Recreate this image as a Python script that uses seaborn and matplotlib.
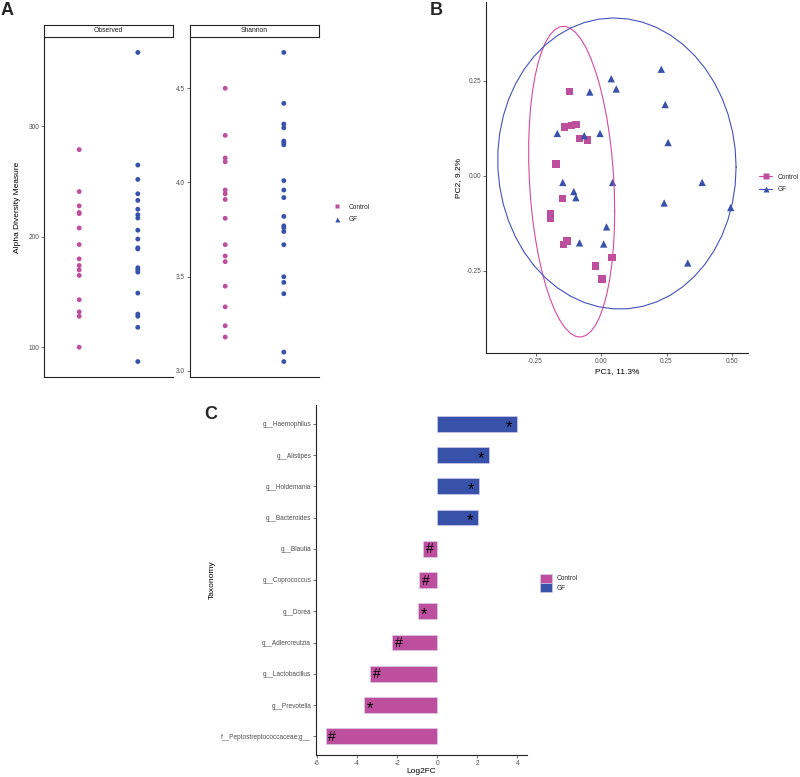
import numpy as np
import pandas as pd
import matplotlib
matplotlib.use('Agg')
import matplotlib.pyplot as plt
import seaborn as sns
from matplotlib.lines import Line2D
from matplotlib.patches import Patch

# ---------------- data ----------------
groups = ['Control', 'GF']
palette = {'Control': '#BE4F9E', 'GF': '#3752A8'}

observed_control = [279, 241, 228, 222, 221, 208, 193, 180, 174, 170, 165, 143, 132, 128, 100]
observed_gf = [367, 265, 252, 239, 233, 225, 220, 217, 206, 198, 190, 189, 172, 170, 168,
               149, 130, 128, 118, 87]
shannon_control = [4.50, 4.25, 4.13, 4.11, 3.96, 3.94, 3.91, 3.81, 3.67, 3.61, 3.58, 3.45,
                   3.34, 3.24, 3.18]
shannon_gf = [4.69, 4.42, 4.31, 4.29, 4.22, 4.21, 4.20, 4.01, 3.96, 3.92, 3.82, 3.77, 3.76,
              3.74, 3.67, 3.50, 3.47, 3.41, 3.10, 3.05]

pc1_control = [-0.120, -0.139, -0.112, -0.096, -0.083, -0.051, -0.172, -0.146, -0.194, -0.192,
               -0.143, -0.130, 0.042, -0.021, 0.004]
pc2_control = [0.222, 0.128, 0.132, 0.135, 0.098, 0.094, 0.031, -0.061, -0.100, -0.112,
               -0.181, -0.172, -0.215, -0.238, -0.272]
pc1_gf = [0.230, 0.039, -0.043, 0.058, 0.245, -0.167, -0.064, -0.004, 0.256, -0.146, 0.044,
          0.386, -0.104, -0.096, 0.241, 0.495, 0.021, -0.082, 0.010, 0.331]
pc2_gf = [0.280, 0.255, 0.220, 0.228, 0.187, 0.111, 0.105, 0.111, 0.087, -0.018, -0.018,
          -0.018, -0.042, -0.058, -0.072, -0.084, -0.135, -0.177, -0.180, -0.230]
# 95% F quantiles qf(0.95, 2, n-1) for n = 15 and n = 20
f95 = {'Control': 3.7389, 'GF': 3.5219}

taxa = ['g__Haemophilus', 'g__Alistipes', 'g__Holdemania', 'g__Bacteroides', 'g__Blautia',
        'g__Coprococcus', 'g__Dorea', 'g__Adlercreutzia', 'g__Lactobacillus', 'g__Prevotella',
        'f__Peptostreptococcaceae;g__']
log2fc = [4.00, 2.57, 2.08, 2.03, -0.69, -0.91, -0.94, -2.25, -3.36, -3.65, -5.57]
taxa_group = ['GF', 'GF', 'GF', 'GF', 'Control', 'Control', 'Control', 'Control', 'Control',
              'Control', 'Control']
signif = ['*', '*', '*', '*', '#', '#', '*', '#', '#', '*', '#']

# ---------------- style ----------------
sns.set_theme(style='white')
plt.rcParams['font.family'] = ['Liberation Sans', 'DejaVu Sans']
plt.rcParams['axes.unicode_minus'] = False

W, H = 800, 777
fig = plt.figure(figsize=(W / 100, H / 100), dpi=100)


def rect(x0, y0, x1, y1):
    return [x0 / W, 1 - y1 / H, (x1 - x0) / W, (y1 - y0) / H]


TICK_FS = 4.7
LAB_FS = 6.0
SPINE = '#222222'


def style_axes(ax):
    for s in ['top', 'right']:
        ax.spines[s].set_visible(False)
    for s in ['left', 'bottom']:
        ax.spines[s].set_color(SPINE)
        ax.spines[s].set_linewidth(0.8)
    ax.tick_params(axis='both', length=2, width=0.5, color='#333333', labelsize=TICK_FS,
                   labelcolor='#4D4D4D', pad=1.5, left=True, bottom=True)
    ax.grid(False)
    ax.set_facecolor('white')


def expand(vals, frac=0.05):
    lo, hi = min(vals), max(vals)
    r = hi - lo
    return lo - frac * r, hi + frac * r


# ---------------- Panel A ----------------
df_obs = pd.DataFrame({'Group': ['Control'] * len(observed_control) + ['GF'] * len(observed_gf),
                       'value': observed_control + observed_gf})
df_sha = pd.DataFrame({'Group': ['Control'] * len(shannon_control) + ['GF'] * len(shannon_gf),
                       'value': shannon_control + shannon_gf})

facets = [('Observed', df_obs, rect(44, 37, 173, 377), rect(44, 25, 173, 37), [100, 200, 300], '%d'),
          ('Shannon', df_sha, rect(190, 37, 319, 377), rect(190, 25, 319, 37), [3.0, 3.5, 4.0, 4.5], '%.1f')]
for name, df, r, sr, ticks, fmt in facets:
    ax = fig.add_axes(r)
    sns.stripplot(data=df, x='Group', y='value', hue='Group', order=groups, hue_order=groups,
                  palette=palette, jitter=False, size=3.5, linewidth=0, legend=False, ax=ax)
    style_axes(ax)
    ax.set_xlim(-0.6, 1.6)
    ax.set_ylim(*expand(df['value']))
    ax.set_xticks([])
    ax.set_xlabel('')
    ax.set_yticks(ticks)
    ax.set_yticklabels([fmt % t for t in ticks])
    ax.set_ylabel('Alpha Diversity Measure' if name == 'Observed' else '', fontsize=LAB_FS,
                  color='black', labelpad=5)
    sax = fig.add_axes(sr)
    sax.set_xticks([]); sax.set_yticks([])
    for s in sax.spines.values():
        s.set_visible(True); s.set_color(SPINE); s.set_linewidth(0.8)
    sax.set_facecolor('white')
    sax.text(0.5, 0.5, name, ha='center', va='center', fontsize=4.9, color='#1A1A1A',
             transform=sax.transAxes)

handles_a = [Line2D([0], [0], marker='s', color='none', markerfacecolor=palette['Control'],
                    markeredgecolor='none', markersize=3.2),
             Line2D([0], [0], marker='^', color='none', markerfacecolor=palette['GF'],
                    markeredgecolor='none', markersize=3.6)]
fig.legend(handles_a, groups, loc='center left', bbox_to_anchor=(334 / W, 1 - 213.5 / H),
           frameon=False, fontsize=4.7, handlelength=1.0, handletextpad=1.2, labelspacing=0.9,
           borderpad=0, borderaxespad=0)


# ---------------- Panel B ----------------
def cov_trob(x, nu=5, maxit=25, tol=0.01):
    n, p = x.shape
    wt = np.ones(n)
    loc = x.mean(axis=0)
    w = np.sqrt(wt)
    X = x - loc
    for _ in range(maxit):
        w0 = w
        X = x - loc
        _, d, vt = np.linalg.svd(np.sqrt(w / w.sum())[:, None] * X, full_matrices=False)
        wX = X @ vt.T @ np.diag(1 / d)
        Q = (wX ** 2).sum(axis=1)
        w = wt * (nu + p) / (nu + Q)
        loc = (w[:, None] * x).sum(axis=0) / w.sum()
        if np.all(np.abs(w - w0) < tol):
            break
    Xw = np.sqrt(w)[:, None] * X
    cov = Xw.T @ Xw / wt.sum()
    return loc, cov


df_pc = pd.DataFrame({'Group': ['Control'] * len(pc1_control) + ['GF'] * len(pc1_gf),
                      'PC1': pc1_control + pc1_gf, 'PC2': pc2_control + pc2_gf})

axb = fig.add_axes(rect(486, 2, 748, 353))
ell = {}
for g in groups:
    sub = df_pc[df_pc['Group'] == g][['PC1', 'PC2']].to_numpy()
    loc, cov = cov_trob(sub)
    U = np.linalg.cholesky(cov).T
    ang = np.linspace(0, 2 * np.pi, 52)
    circ = np.column_stack([np.cos(ang), np.sin(ang)])
    ell[g] = loc + np.sqrt(2 * f95[g]) * (circ @ U)

sns.scatterplot(data=df_pc, x='PC1', y='PC2', hue='Group', style='Group', hue_order=groups,
                style_order=groups, markers={'Control': 's', 'GF': '^'}, palette=palette,
                s=28, linewidth=0, legend=False, ax=axb)
ell_colors = {'Control': '#D8489F', 'GF': '#4650BE'}
for g in groups:
    axb.plot(ell[g][:, 0], ell[g][:, 1], color=ell_colors[g], lw=0.8)
style_axes(axb)
allx = np.concatenate([ell['Control'][:, 0], ell['GF'][:, 0], df_pc['PC1']])
ally = np.concatenate([ell['Control'][:, 1], ell['GF'][:, 1], df_pc['PC2']])
axb.set_xlim(*expand(allx))
axb.set_ylim(*expand(ally))
axb.set_xticks([-0.25, 0.0, 0.25, 0.50])
axb.set_xticklabels(['%.2f' % t for t in [-0.25, 0.0, 0.25, 0.50]])
axb.set_yticks([-0.25, 0.0, 0.25])
axb.set_yticklabels(['%.2f' % t for t in [-0.25, 0.0, 0.25]])
axb.set_xlabel('PC1, 11.3%', fontsize=LAB_FS, color='black', labelpad=2)
axb.set_ylabel('PC2, 9.2%', fontsize=LAB_FS, color='black', labelpad=3)

handles_b = [Line2D([0], [0], marker='s', color=ell_colors['Control'], lw=0.8,
                    markerfacecolor=palette['Control'], markeredgecolor='none', markersize=4),
             Line2D([0], [0], marker='^', color=ell_colors['GF'], lw=0.8,
                    markerfacecolor=palette['GF'], markeredgecolor='none', markersize=4.5)]
fig.legend(handles_b, groups, loc='center left', bbox_to_anchor=(759 / W, 1 - 183.5 / H),
           frameon=False, fontsize=4.7, handlelength=2.0, handletextpad=0.8, labelspacing=0.9,
           borderpad=0, borderaxespad=0)

# ---------------- Panel C ----------------
df_c = pd.DataFrame({'Taxonomy': taxa, 'Log2FC': log2fc, 'Group': taxa_group})
axc = fig.add_axes(rect(316, 405, 527, 755))
sns.barplot(data=df_c, x='Log2FC', y='Taxonomy', hue='Group', hue_order=groups, order=taxa,
            palette=palette, orient='h', dodge=False, width=0.5, legend=False, ax=axc,
            edgecolor='#DCD3EE', linewidth=0.4, errorbar=None, saturation=1)
style_axes(axc)
axc.set_ylim(len(taxa) - 0.4, -0.6)
axc.set_xlim(*expand(log2fc))
axc.set_xticks([-6, -4, -2, 0, 2, 4])
axc.set_xticklabels(['-6', '-4', '-2', '0', '2', '4'])
axc.set_xlabel('Log2FC', fontsize=LAB_FS, color='black', labelpad=1)
axc.set_ylabel('Taxonomy', fontsize=LAB_FS, color='black', labelpad=4)
for i, (v, s) in enumerate(zip(log2fc, signif)):
    dy = 0.11 if s == '*' else 0.02
    fs = 12 if s == '*' else 10
    if v > 0:
        axc.text(v - 0.25, i + dy, s, ha='right', va='center', fontsize=fs, color='black')
    else:
        axc.text(v + 0.13, i + dy, s, ha='left', va='center', fontsize=fs, color='black')

handles_c = [Patch(facecolor=palette['Control'], edgecolor='#DCD3EE', linewidth=0.4),
             Patch(facecolor=palette['GF'], edgecolor='#DCD3EE', linewidth=0.4)]
fig.legend(handles_c, groups, loc='center left', bbox_to_anchor=(540 / W, 1 - 583 / H),
           frameon=False, fontsize=4.7, handlelength=1.8, handleheight=1.8, handletextpad=0.8,
           labelspacing=0.05, borderpad=0, borderaxespad=0)

# ---------------- panel letters ----------------
fig.text(1 / W, 1 - 2 / H, 'A', fontsize=13, fontweight='bold', va='top', ha='left')
fig.text(430 / W, 1 - 2 / H, 'B', fontsize=13, fontweight='bold', va='top', ha='left')
fig.text(204 / W, 1 - 406 / H, 'C', fontsize=13, fontweight='bold', va='top', ha='left')

fig.savefig('out.png', dpi=100, facecolor='white')
